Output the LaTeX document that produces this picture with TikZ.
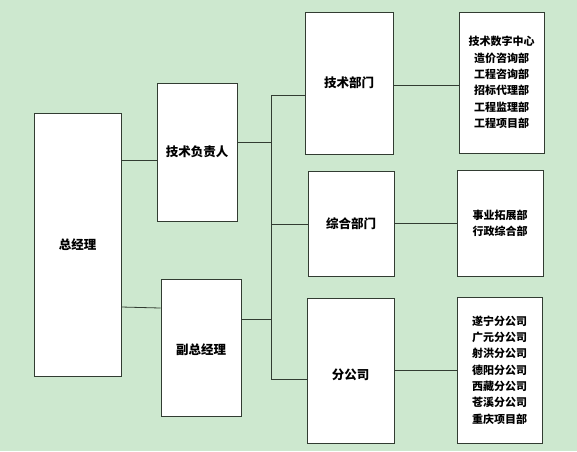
\documentclass[tikz,border=0pt]{standalone}
\usepackage{fontspec}
\setmainfont{Noto Sans CJK SC}
\definecolor{bg}{RGB}{205,232,207}
\definecolor{ln}{RGB}{50,60,50}
\begin{document}
\begin{tikzpicture}[x=1pt,y=-1pt,
  box/.style={draw=ln,line width=0.9pt,fill=white,inner sep=0pt,align=center,
    font=\fontsize{12.5}{15}\selectfont\bfseries},
  listbox/.style={box,font=\fontsize{11}{16.3}\selectfont\bfseries},
  conn/.style={draw=ln,line width=0.8pt}]
\fill[bg] (0,0) rectangle (577,451);
\useasboundingbox (0,0) rectangle (577,451);
\node[box,minimum width=87pt,minimum height=263pt] (gm) at (77.5,244.5) {总经理};
\node[box,minimum width=80pt,minimum height=138pt] (tech) at (197,152) {技术负责人};
\node[box,minimum width=80pt,minimum height=137pt,text height=16pt,text depth=1.5pt] (vgm) at (201,347.5) {副总经理};
\node[box,minimum width=88pt,minimum height=142pt] (d1) at (349,83) {技术部门};
\node[box,minimum width=86pt,minimum height=105pt] (d2) at (351,223.5) {综合部门};
\node[box,minimum width=87pt,minimum height=145pt,text height=19pt,text depth=1.5pt] (d3) at (350.5,370.5) {分公司};
\node[listbox,minimum width=85pt,minimum height=141pt] (l1) at (501.5,82.5)
  {技术数字中心\\造价咨询部\\工程咨询部\\招标代理部\\工程监理部\\工程项目部};
\node[listbox,minimum width=86pt,minimum height=106pt] (l2) at (500,223)
  {事业拓展部\\行政综合部};
\node[listbox,minimum width=85pt,minimum height=146pt] (l3) at (499.5,370)
  {遂宁分公司\\广元分公司\\射洪分公司\\德阳分公司\\西藏分公司\\苍溪分公司\\重庆项目部};
\coordinate (bt) at (271,95);
\coordinate (bb) at (271,379);
\coordinate (b1) at (271,142);
\coordinate (b2) at (271,319);
\coordinate (b3) at (271,224);
\draw[conn] (bt) -- (bb);
\draw[conn] (gm.east |- 0,160) -- (tech.west |- 0,160);
\draw[conn] (gm.east |- 0,307) -- (vgm.west |- 0,308);
\draw[conn] (tech.east |- b1) -- (b1);
\draw[conn] (vgm.east |- b2) -- (b2);
\draw[conn] (bt) -- (d1.west |- bt);
\draw[conn] (b3) -- (d2.west |- b3);
\draw[conn] (bb) -- (d3.west |- bb);
\draw[conn] (d1.east |- 0,85) -- (l1.west |- 0,85);
\draw[conn] (d2.east |- 0,223) -- (l2.west |- 0,223);
\draw[conn] (d3.east |- 0,370) -- (l3.west |- 0,370);
\end{tikzpicture}
\end{document}
